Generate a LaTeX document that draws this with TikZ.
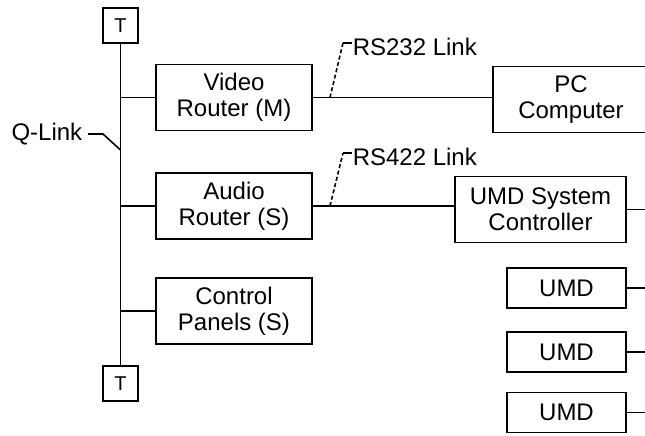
\documentclass[tikz,border=0pt]{standalone}
\usepackage{fontspec}
\setmainfont{Liberation Sans}
\begin{document}
\begin{tikzpicture}[x=1pt,y=-1pt,line width=1.6pt,
  box/.style={draw,minimum width=156pt,minimum height=66pt,inner sep=0pt,align=center,font=\fontsize{24}{26}\selectfont},
  umdbox/.style={draw,minimum width=119pt,minimum height=40pt,inner sep=0pt,font=\fontsize{24}{26}\selectfont},
  term/.style={draw,minimum size=35pt,inner sep=0pt,font=\fontsize{20}{22}\selectfont},
  lbl/.style={inner sep=0pt,font=\fontsize{24}{26}\selectfont},
  leader/.style={dash pattern=on 4pt off 2.5pt}]
\useasboundingbox (0,0) rectangle (645,436);
\clip (0,0) rectangle (645,436);
\node[term] (ttop) at (120.5,25.5) {T};
\node[term] (tbot) at (120.5,383.5) {T};
\node[box] (video) at (234,97.5) {Video\\Router (M)};
\node[box] (audio) at (234,206) {Audio\\Router (S)};
\node[box] (panels) at (234,311) {Control\\Panels (S)};
\node[box] (pc) at (571,99.5) {PC\\Computer};
\node[box,minimum width=171pt] (umdsc) at (540.5,209.5) {UMD System\\Controller};
\node[umdbox] (umda) at (566.5,288) {UMD};
\node[umdbox] (umdb) at (566.5,352) {UMD};
\node[umdbox] (umdc) at (566.5,412.5) {UMD};
\draw (ttop) -- (tbot);
\draw (ttop.south |- video.west) -- (video.west);
\draw (ttop.south |- audio.west) -- (audio.west);
\draw (ttop.south |- panels.west) -- (panels.west);
\draw (video.east) -- (video.east -| pc.west);
\draw (audio.east) -- (audio.east -| umdsc.west);
\draw (umdsc.east) -- ++(30,0);
\draw (umda.east) -- ++(30,0);
\draw (umdb.east) -- ++(30,0);
\draw (umdc.east) -- ++(30,0);
\node[lbl,anchor=east] (qlink) at (83,134) {Q-Link};
\coordinate (qtap) at (120.5,150);
\draw ([xshift=5pt]qlink.east) -- ++(15,0) -- (qtap);
\node[lbl,anchor=west] (rs232) at (352,47) {RS232 Link};
\node[lbl,anchor=west] (rs422) at (352,157) {RS422 Link};
\coordinate (tap232) at (330,97.5);
\coordinate (tap422) at (330,206);
\draw[leader] (tap232) -- ([shift={(-9,-4)}]rs232.west);
\draw ([shift={(-9,-4)}]rs232.west) -- ([shift={(0,-4)}]rs232.west);
\draw[leader] (tap422) -- ([shift={(-9,-4)}]rs422.west);
\draw ([shift={(-9,-4)}]rs422.west) -- ([shift={(0,-4)}]rs422.west);
\end{tikzpicture}
\end{document}
